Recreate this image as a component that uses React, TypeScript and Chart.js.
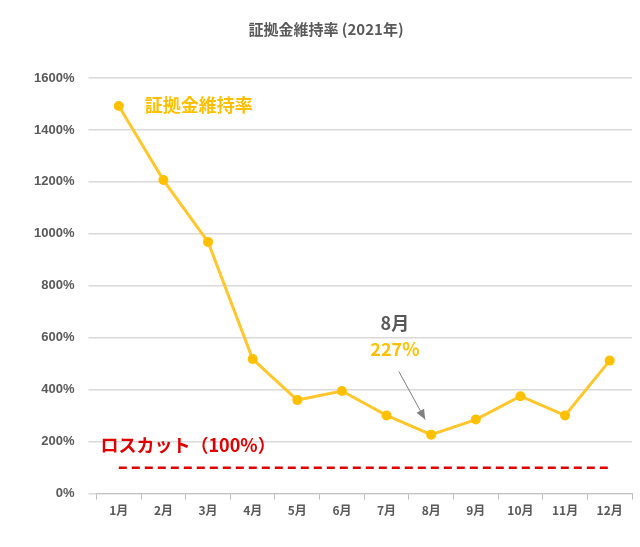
import React, { useEffect, useRef } from "react";
import { Chart, registerables } from "chart.js";
Chart.register(...registerables);

const months = ["1月","2月","3月","4月","5月","6月","7月","8月","9月","10月","11月","12月"];
const ratio = [1492, 1207, 969, 518, 360, 395, 301, 227, 285, 375, 301, 512];
const lossCut = 100;

const annot = {
  id: "annot",
  afterDatasetsDraw(chart: any) {
    const { ctx, scales: { x, y } } = chart;
    ctx.save();
    ctx.font = "bold 18px 'Noto Sans CJK JP', sans-serif";
    ctx.textBaseline = "middle";
    ctx.fillStyle = "#FFC000";
    ctx.textAlign = "left";
    ctx.fillText("証拠金維持率", x.getPixelForValue(0) + 26, y.getPixelForValue(1495));
    ctx.fillStyle = "#E00000";
    ctx.fillText("ロスカット（100%）", x.left + 4, y.getPixelForValue(185));
    ctx.textAlign = "center";
    const px = x.getPixelForValue(6.5) - 14;
    ctx.fillStyle = "#595959";
    ctx.fillText("8月", px, y.getPixelForValue(657));
    ctx.fillStyle = "#FFC000";
    ctx.fillText("227%", px, y.getPixelForValue(555));
    const x1 = x.getPixelForValue(6.5) - 10, y1 = y.getPixelForValue(470);
    const x2 = x.getPixelForValue(7) - 6, y2 = y.getPixelForValue(285);
    ctx.strokeStyle = "#808080"; ctx.fillStyle = "#808080"; ctx.lineWidth = 1;
    ctx.beginPath(); ctx.moveTo(x1, y1); ctx.lineTo(x2, y2); ctx.stroke();
    const a = Math.atan2(y2 - y1, x2 - x1);
    ctx.beginPath();
    ctx.moveTo(x2, y2);
    ctx.lineTo(x2 - 11 * Math.cos(a - 0.4), y2 - 11 * Math.sin(a - 0.4));
    ctx.lineTo(x2 - 11 * Math.cos(a + 0.4), y2 - 11 * Math.sin(a + 0.4));
    ctx.closePath(); ctx.fill();
    ctx.restore();
  },
};

export default function App() {
  const ref = useRef<HTMLCanvasElement>(null);
  useEffect(() => {
    const c = new Chart(ref.current!, {
      type: "line",
      data: {
        labels: months,
        datasets: [
          { data: ratio, borderColor: "#FFC72C", backgroundColor: "#FFC000", borderWidth: 3, pointRadius: 5, pointBorderWidth: 0, tension: 0 },
          { data: months.map(() => lossCut), borderColor: "#E00000", borderWidth: 2.5, borderDash: [8, 5], pointRadius: 0 },
        ],
      },
      options: {
        responsive: false, animation: false,
        layout: { padding: { left: 20, right: 8, top: 0, bottom: 25 } },
        plugins: {
          legend: { display: false }, tooltip: { enabled: false },
          title: { display: true, text: "証拠金維持率 (2021年)", color: "#595959", font: { size: 15, weight: "bold", family: "'Noto Sans CJK JP', sans-serif" }, padding: { top: 20, bottom: 40 } },
        },
        scales: {
          x: { offset: true, grid: { display: true, offset: true, drawOnChartArea: false, tickLength: 6, color: "#BFBFBF" }, border: { color: "#BFBFBF" }, ticks: { color: "#595959", font: { size: 12, weight: "bold", family: "'Noto Sans CJK JP', sans-serif" }, padding: 4 } },
          y: { min: 0, max: 1600, ticks: { stepSize: 200, color: "#595959", font: { size: 13, weight: "bold", family: "Arial, 'Liberation Sans', sans-serif" }, callback: (v: any) => v + "%", padding: 14 }, grid: { color: "#D9D9D9", lineWidth: 1.5 }, border: { display: false } },
        },
      },
      plugins: [annot],
    });
    return () => c.destroy();
  }, []);
  return <canvas ref={ref} width={640} height={547} style={{ position: "absolute", left: 0, top: 0 }} />;
}
